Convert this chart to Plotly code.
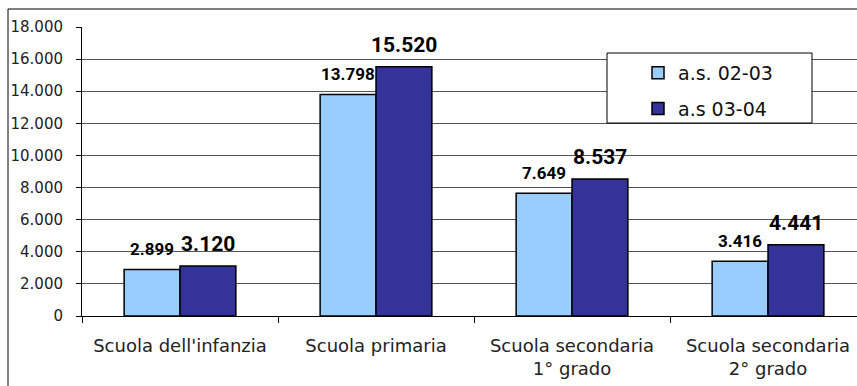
import plotly.graph_objects as go

# ── Data ───────────────────────────────────────────────────────────────────
CATEGORIES = [
    "Scuola dell'infanzia",
    "Scuola primaria",
    "Scuola secondaria<br>1° grado",
    "Scuola secondaria<br>2° grado",
]
SERIES_NAMES = ["a.s. 02-03", "a.s 03-04"]
VALUES_0203 = [2899, 13798, 7649, 3416]
VALUES_0304 = [3120, 15520, 8537, 4441]
Y_TICKS = [0, 2000, 4000, 6000, 8000, 10000, 12000, 14000, 16000, 18000]

COLORS = ["#99CCFF", "#333399"]
LABEL_SIZES = [17, 21]
LABEL_SHIFT = [-28, 28]

# plot area: x 82..857 (cut by the picture), y 27..316
PLOT_W = 775


def px_x(wx):
    return (wx - 82) / PLOT_W


def px_y(wy):
    return (316 - wy) / 289


fig = go.Figure()
for name, vals, color in zip(SERIES_NAMES, [VALUES_0203, VALUES_0304], COLORS):
    fig.add_trace(go.Bar(
        x=CATEGORIES, y=vals, name=name, legendgroup=name,
        marker=dict(color=color, line=dict(color="black", width=1.5)),
    ))

# data labels above each bar (Excel-style, a bit detached from the bar top)
for vals, size, shift in zip([VALUES_0203, VALUES_0304], LABEL_SIZES, LABEL_SHIFT):
    for cat, v in zip(CATEGORIES, vals):
        fig.add_annotation(
            x=cat, y=v, xshift=shift, yshift=8,
            text=f"{v:,}".replace(",", "."),
            showarrow=False, yanchor="bottom",
            font=dict(family="Roboto", size=size, color="black", weight="bold"),
        )

# outer chart border: only its left and top sides are inside the picture
fig.add_shape(type="line", xref="paper", yref="paper",
              x0=px_x(8), x1=px_x(8), y0=-0.4, y1=px_y(9),
              line=dict(color="black", width=1), layer="below")
fig.add_shape(type="line", xref="paper", yref="paper",
              x0=px_x(8), x1=1.1, y0=px_y(9), y1=px_y(9),
              line=dict(color="black", width=1), layer="below")
# legend box
fig.add_shape(type="rect", xref="paper", yref="paper",
              x0=px_x(607), x1=px_x(812), y0=px_y(123), y1=px_y(53),
              line=dict(color="black", width=1), fillcolor="white", layer="above")

fig.update_layout(
    width=857, height=386,
    margin=dict(l=82, r=0, t=27, b=70),
    paper_bgcolor="white", plot_bgcolor="white",
    separators=",.",
    barmode="group", bargap=0.43, bargroupgap=0,
    font=dict(family="DejaVu Sans", color="#222"),
    showlegend=True,
    legend=dict(
        x=px_x(638), xanchor="left",
        y=px_y(54), yanchor="top",
        bgcolor="rgba(0,0,0,0)", borderwidth=0,
        font=dict(size=19, color="#111"),
        tracegroupgap=8, traceorder="grouped",
    ),
    xaxis=dict(
        range=[-0.5, 3.454], showline=True, linecolor="black", linewidth=1,
        ticks="outside", tickson="boundaries", ticklen=6, tickcolor="black",
        tickfont=dict(size=18, color="#222"), showgrid=False,
        ticklabelstandoff=13,
    ),
    yaxis=dict(
        range=[0, 18000], tickvals=Y_TICKS, tickformat=",d",
        showline=True, linecolor="black", linewidth=1,
        ticks="outside", ticklen=5, tickcolor="black",
        tickfont=dict(size=15, color="#222"),
        ticklabelstandoff=10,
        showgrid=True, gridcolor="#555", gridwidth=1, zeroline=False,
    ),
)

# drop the default 8px page margin so the figure fills the window exactly
fig.write_html(
    "out.html",
    config={"displayModeBar": False},
    post_script="document.body.style.margin='0';document.body.style.overflow='hidden';",
)
